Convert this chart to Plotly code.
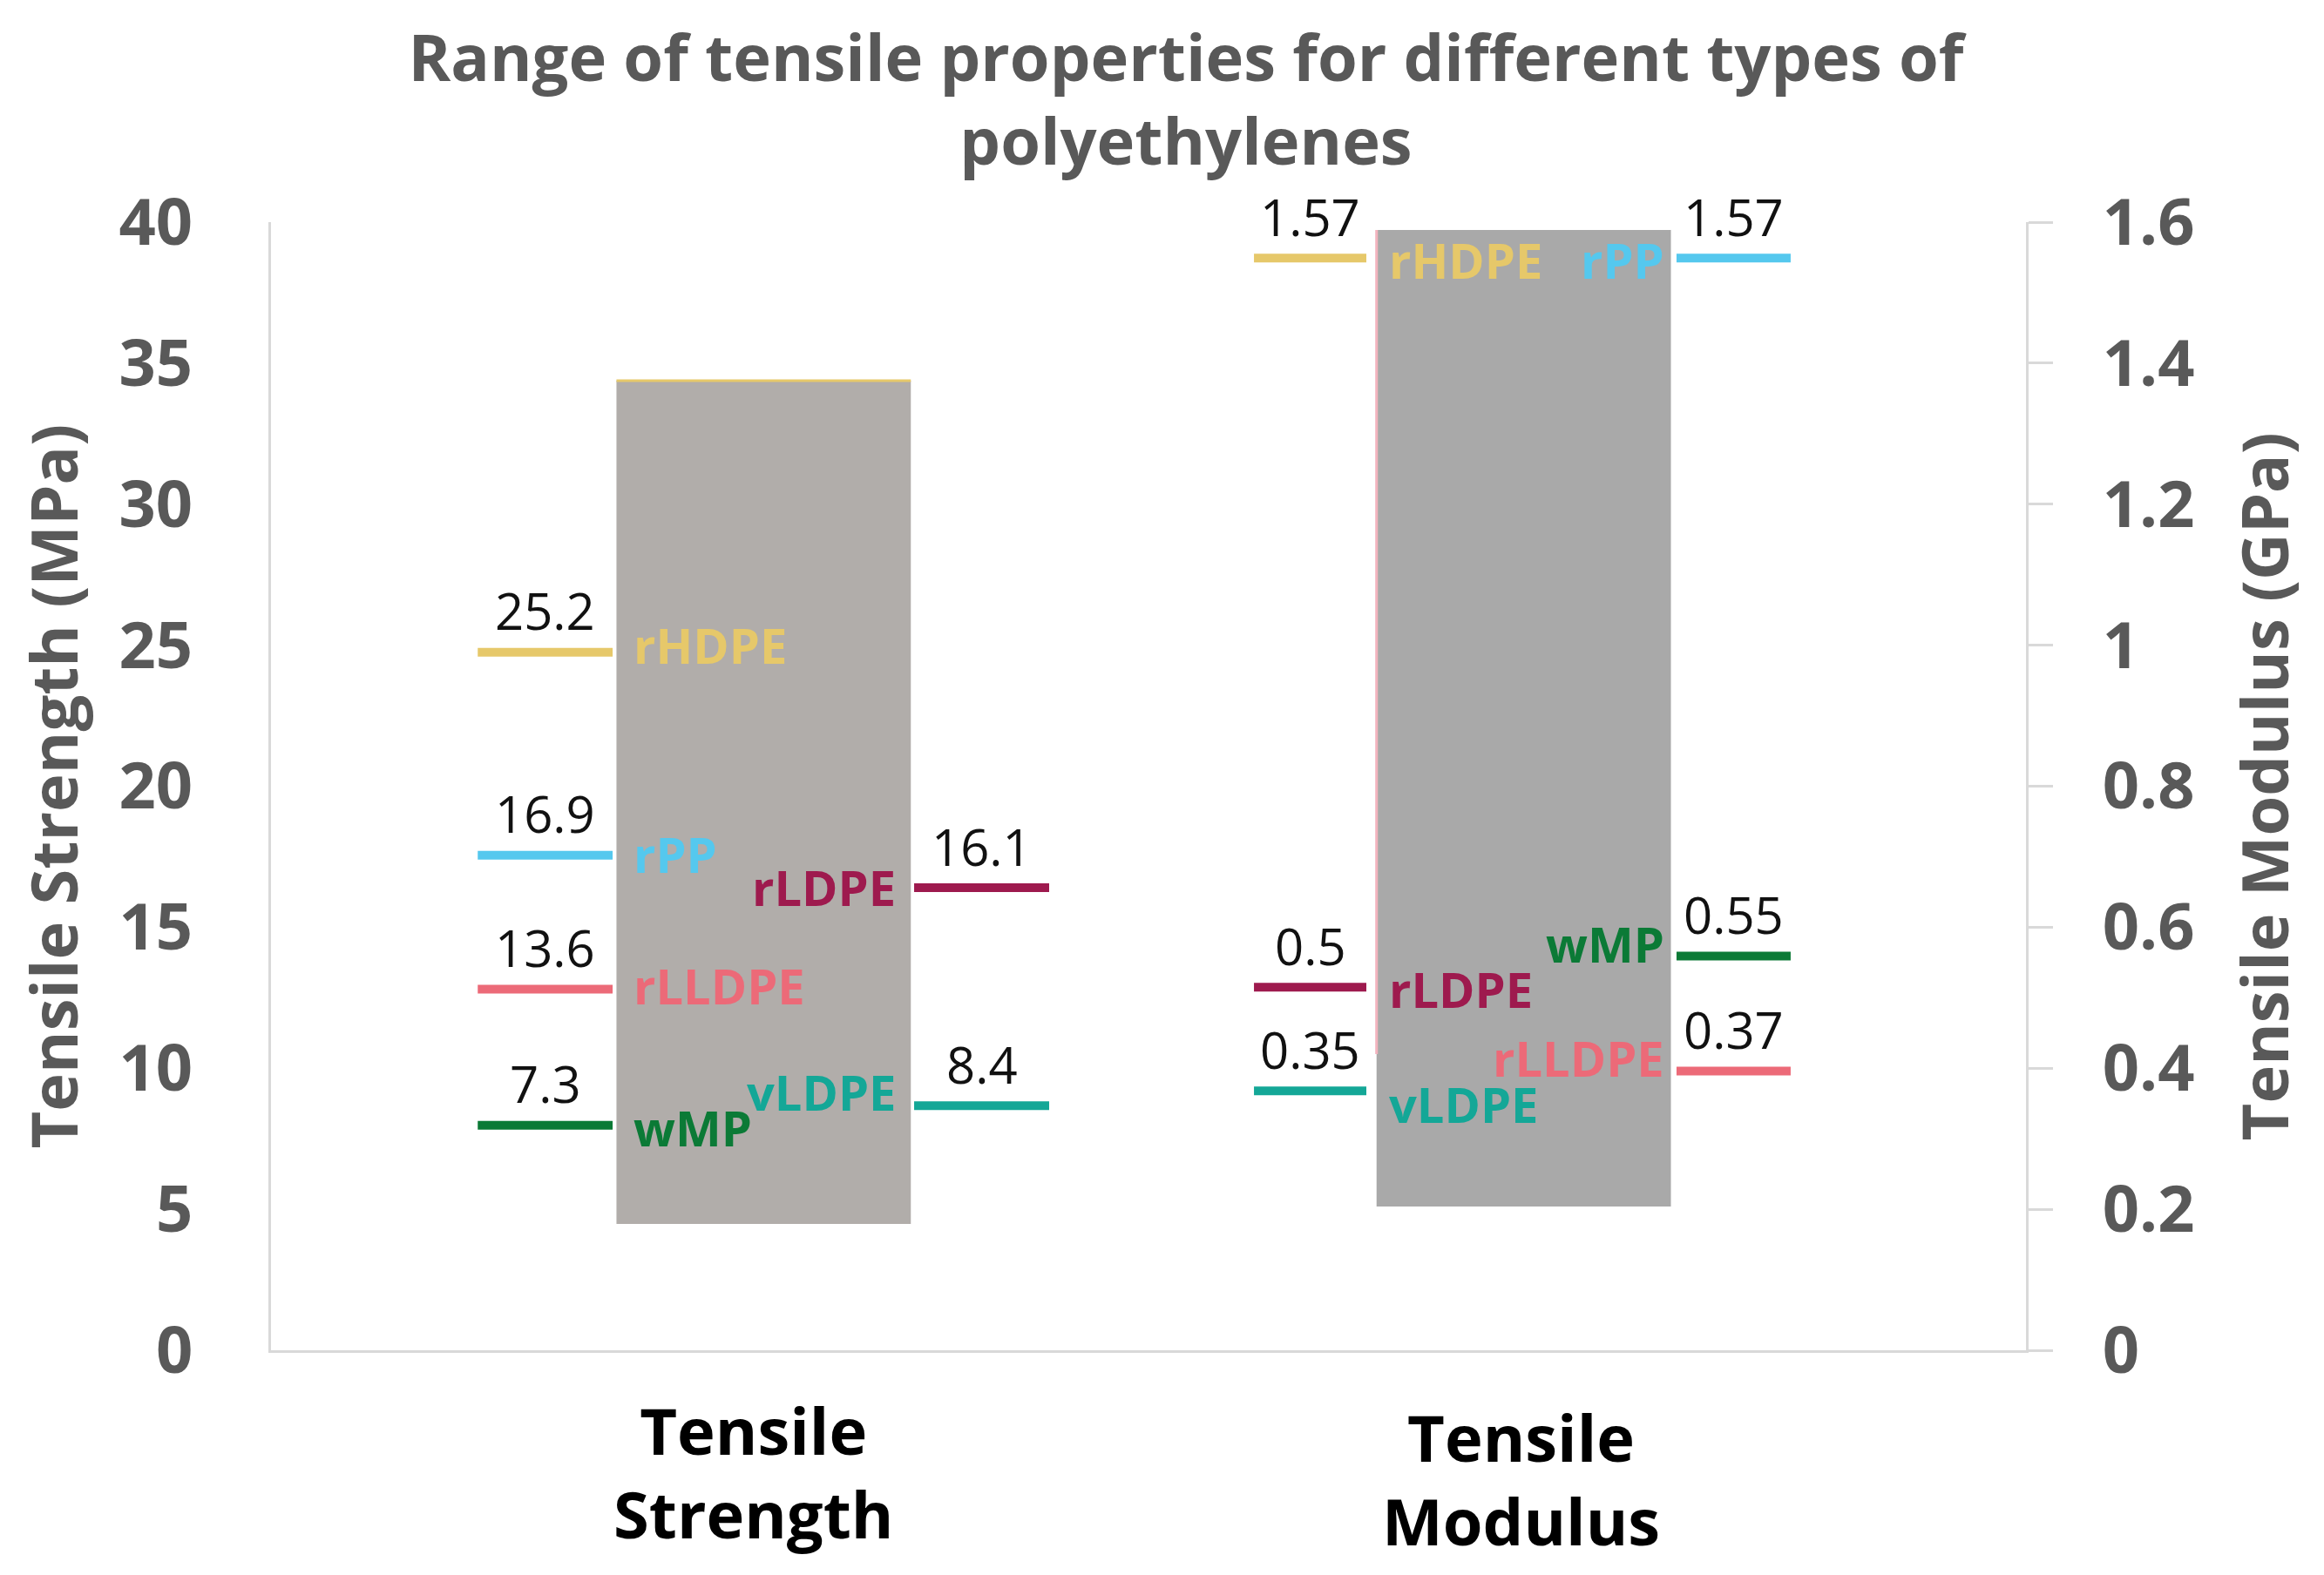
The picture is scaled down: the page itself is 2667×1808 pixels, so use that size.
import plotly.graph_objects as go

# ---------------- data ----------------
categories = ["Tensile<br>Strength", "Tensile<br>Modulus"]

# range boxes (low, high)
strength_range = [4.48, 34.38]      # MPa
modulus_range = [0.204, 1.589]      # GPa

# Tensile strength markers
strength_names = ["rHDPE", "rPP", "rLLDPE", "wMP", "rLDPE", "vLDPE"]
strength_labels = ["25.2", "16.9", "13.6", "7.3", "16.1", "8.4"]
strength_levels = [24.75, 17.55, 12.8, 7.98, 16.4, 8.67]
strength_sides = ["left", "left", "left", "left", "right", "right"]

# Tensile modulus markers
modulus_names = ["rHDPE", "rPP", "rLDPE", "vLDPE", "wMP", "rLLDPE"]
modulus_labels = ["1.57", "1.57", "0.5", "0.35", "0.55", "0.37"]
modulus_levels = [1.549, 1.549, 0.515, 0.368, 0.559, 0.396]
modulus_sides = ["left", "right", "left", "left", "right", "right"]

colors = {
    "rHDPE": "#E6C86A",
    "rPP": "#55C8EE",
    "rLLDPE": "#EC6A78",
    "wMP": "#0B7A36",
    "rLDPE": "#9E1A4E",
    "vLDPE": "#14A797",
}

# ---------------- layout helpers ----------------
FONT = "Open Sans"
GRAY = "#595959"
AXIS_LINE = "#D9D9D9"

x_cat = [0.0, 1.0]
box_center = [0.014, 1.003]
box_width = 0.383

# segment extents relative to category position
seg_left = {0: (-0.358, -0.1825), 1: (-0.348, -0.2018)}
seg_right = {0: (0.2098, 0.3855), 1: (0.2018, 0.3503)}
name_left_start = {0: -0.1576, 1: 0.8254 - 1.0}
name_right_end = {0: 0.188, 1: 0.188}

# vertical nudges of name labels (px)
strength_name_shift = [9, 2, 5, -2, 1, 16]
modulus_name_shift = [-2, -2, -2, -15, 15, 15]

fig = go.Figure()

# range boxes
fig.add_trace(go.Bar(
    x=[box_center[0]], y=[strength_range[1] - strength_range[0]],
    base=[strength_range[0]], width=[box_width],
    marker=dict(color="#B1ADAA", line=dict(width=0)),
    yaxis="y", showlegend=False, hoverinfo="skip"))
fig.add_trace(go.Bar(
    x=[box_center[1]], y=[modulus_range[1] - modulus_range[0]],
    base=[modulus_range[0]], width=[box_width],
    marker=dict(color="#A9A9A9", line=dict(width=0)),
    yaxis="y2", showlegend=False, hoverinfo="skip"))

# thin edge accents seen on the boxes
fig.add_trace(go.Scatter(
    x=[box_center[0] - box_width / 2, box_center[0] + box_width / 2],
    y=[strength_range[1], strength_range[1]], mode="lines",
    line=dict(color=colors["rHDPE"], width=3), yaxis="y",
    showlegend=False, hoverinfo="skip"))
fig.add_trace(go.Scatter(
    x=[box_center[1] - box_width / 2, box_center[1] - box_width / 2],
    y=[0.42, modulus_range[1]], mode="lines",
    line=dict(color="#F3B3BE", width=3), yaxis="y2",
    showlegend=False, hoverinfo="skip"))

annotations = []


def add_group(ci, names, labels, levels, sides, shifts, yaxis):
    yref = "y" if yaxis == "y" else "y2"
    for n, lab, v, s, sh in zip(names, labels, levels, sides, shifts):
        x0, x1 = (seg_left if s == "left" else seg_right)[ci]
        x0 += x_cat[ci]
        x1 += x_cat[ci]
        fig.add_trace(go.Scatter(
            x=[x0, x1], y=[v, v], mode="lines",
            line=dict(color=colors[n], width=10), yaxis=yaxis,
            showlegend=False, hoverinfo="skip"))
        # value label above the segment
        annotations.append(dict(
            x=(x0 + x1) / 2, y=v, xref="x", yref=yref, text=lab,
            showarrow=False, xanchor="center", yanchor="middle", yshift=48,
            font=dict(family=FONT, size=58, color="#111111")))
        # material name next to the box
        if s == "left":
            nx = x_cat[ci] + name_left_start[ci]
            xa = "left"
        else:
            nx = x_cat[ci] + name_right_end[ci]
            xa = "right"
        annotations.append(dict(
            x=nx, y=v, xref="x", yref=yref, text=n, showarrow=False,
            xanchor=xa, yanchor="middle", yshift=sh,
            font=dict(family=FONT, size=56, color=colors[n], weight=700)))


add_group(0, strength_names, strength_labels, strength_levels,
          strength_sides, strength_name_shift, "y")
add_group(1, modulus_names, modulus_labels, modulus_levels,
          modulus_sides, modulus_name_shift, "y2")

# category labels
cat_y = [-0.108, -0.114]
for xc, cname, cy in zip(x_cat, categories, cat_y):
    annotations.append(dict(
        x=xc, y=cy, xref="x", yref="paper", text=cname, showarrow=False,
        xanchor="center", yanchor="middle",
        font=dict(family=FONT, size=74, color="#000000", weight=700)))

# axis titles
annotations.append(dict(
    x=-0.1246, y=0.5, xref="paper", yref="paper",
    text="Tensile Strength (MPa)", textangle=-90, showarrow=False,
    xanchor="center", yanchor="middle",
    font=dict(family=FONT, size=74, color=GRAY, weight=700)))
annotations.append(dict(
    x=1.1355, y=0.5, xref="paper", yref="paper",
    text="Tensile Modulus (GPa)", textangle=-90, showarrow=False,
    xanchor="center", yanchor="middle",
    font=dict(family=FONT, size=74, color=GRAY, weight=700)))

fig.update_layout(
    width=2667, height=1808, autosize=False,
    margin=dict(l=303, r=350, t=247, b=266),
    paper_bgcolor="white", plot_bgcolor="white",
    barmode="overlay", showlegend=False,
    title=dict(
        text="Range of tensile properties for different types of<br>polyethylenes",
        x=0.5073, xanchor="center", y=0.953, yanchor="middle",
        font=dict(family=FONT, size=74, color=GRAY, weight=700)),
    xaxis=dict(
        range=[-0.627, 1.6565], showgrid=False, zeroline=False,
        showticklabels=False, ticks="", showline=True,
        linecolor=AXIS_LINE, linewidth=3),
    yaxis=dict(
        range=[0, 40], tickvals=[0, 5, 10, 15, 20, 25, 30, 35, 40],
        showgrid=False, zeroline=False, showline=True,
        linecolor=AXIS_LINE, linewidth=3, ticks="",
        ticklabelstandoff=72,
        tickfont=dict(family=FONT, size=74, color=GRAY, weight=700)),
    yaxis2=dict(
        range=[0, 1.6], tickvals=[0, 0.2, 0.4, 0.6, 0.8, 1, 1.2, 1.4, 1.6],
        overlaying="y", side="right",
        showgrid=False, zeroline=False, showline=True,
        linecolor=AXIS_LINE, linewidth=3, ticks="outside", ticklen=28,
        tickwidth=3, tickcolor=AXIS_LINE, ticklabelstandoff=42,
        tickfont=dict(family=FONT, size=74, color=GRAY, weight=700)),
    annotations=annotations,
)

fig.write_html("out.html")
